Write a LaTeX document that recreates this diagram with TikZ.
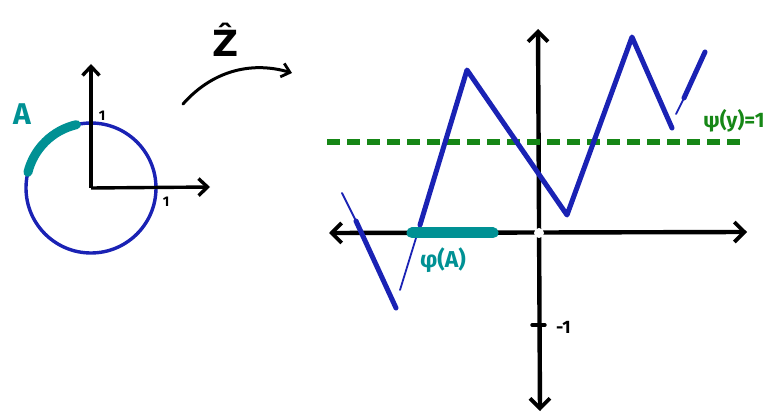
\documentclass[tikz,border=0pt]{standalone}
\usepackage{fontspec}
\setmainfont{Fira Sans}
\newfontfamily\dejavu{DejaVu Sans}
\usetikzlibrary{arrows.meta}
\definecolor{cblue}{RGB}{26,34,180}
\definecolor{cteal}{RGB}{0,145,148}
\definecolor{cgreen}{RGB}{22,135,22}
\tikzset{
  axis/.style={black,line width=4.4pt,line cap=round,{Straight Barb[length=10pt,width=20pt,line width=3.8pt]}-{Straight Barb[length=10pt,width=20pt,line width=3.8pt]}},
  saxis/.style={black,line width=3.4pt,-{Straight Barb[length=9pt,width=17pt,line width=3.4pt]}},
  maparrow/.style={black,line width=3pt,line cap=round,-{Straight Barb[length=8pt,width=14pt,line width=2.8pt]}},
  zig/.style={cblue,line width=5pt,line cap=round,line join=round},
  zigthin/.style={cblue,line width=1.8pt,line cap=round},
  tealbar/.style={cteal,line width=11pt,line cap=round},
  lbl/.style={font=\bfseries\fontsize{14}{15}\selectfont,inner sep=0pt},
  greendash/.style={cgreen,line width=6.5pt,dash pattern=on 13pt off 7pt},
}
\begin{document}
\begin{tikzpicture}[x=1pt,y=-1pt]
\useasboundingbox (0,0) rectangle (771,414);
% ---- left: unit circle
\coordinate (c) at (91,188);
\draw[cblue,line width=3.4pt] (c) circle[radius=65];
\draw[saxis] (c) -- (91,64);
\draw[saxis] (c) -- (210,187);
\node[lbl] (one1) at (102,116) {1};
\node[lbl] (one2) at (166,202) {1};
\draw[cteal,line width=9pt,line cap=round] (c) ++(-103:65) arc[start angle=-103,end angle=-166,radius=65];
\node[cteal,inner sep=0pt,font=\bfseries\fontsize{30}{32}\selectfont] (A) at (22,114) {A};
% ---- map arrow
\coordinate (m0) at (183,104);
\coordinate (m1) at (292,73);
\draw[maparrow] (m0) .. controls (215,68) and (255,62) .. (m1);
\node[inner sep=0pt,font=\dejavu\bfseries\fontsize{36}{40}\selectfont] (Z) at (226,40) {Ẑ};
% ---- right axes
\coordinate (o) at (539,233);
\coordinate (xl) at (329,233);
\coordinate (xr) at (747,232);
\coordinate (yt) at (538,29);
\coordinate (yb) at (540,411);
\draw[axis] (xl) -- (xr);
\draw[axis] (yt) -- (yb);
\fill[white] (o) circle[radius=5];
\draw[black,line width=3.4pt,line cap=round] (532,325) -- (545,325);
\node[lbl,font=\bfseries\fontsize{18}{19}\selectfont,anchor=west] (m1lbl) at (556,327) {-1};
% ---- green level line
\draw[greendash] (327,142) -- (745,142);
\node[cgreen,lbl,font=\bfseries\fontsize{21}{22}\selectfont] (psi) at (734,121) {ψ(y)=1};
% ---- zigzag
\coordinate (z0) at (342,193);
\coordinate (z0b) at (356,221);
\coordinate (z1) at (396,308);
\coordinate (z1b) at (400,290);
\coordinate (z1c) at (420,225);
\coordinate (z2) at (467,70);
\coordinate (z3) at (567,215);
\coordinate (z4) at (632,37);
\coordinate (z5) at (672,128);
\coordinate (z5b) at (676,114);
\coordinate (z5c) at (684,98);
\coordinate (z6) at (705,52);
\draw[zigthin] (z0) -- (z0b);
\draw[zig] (z0b) -- (z1);
\draw[zigthin] (z1b) -- (z1c);
\draw[zig] (z1c) -- (z2) -- (z3) -- (z4) -- (z5);
\draw[zigthin] (z5b) -- (z5c);
\draw[zig] (z5c) -- (z6);
% ---- phi(A)
\draw[tealbar] (412,233) -- (493,233);
\node[cteal,lbl,font=\bfseries\fontsize{23}{25}\selectfont] (phiA) at (443,260) {φ(A)};
\end{tikzpicture}
\end{document}
